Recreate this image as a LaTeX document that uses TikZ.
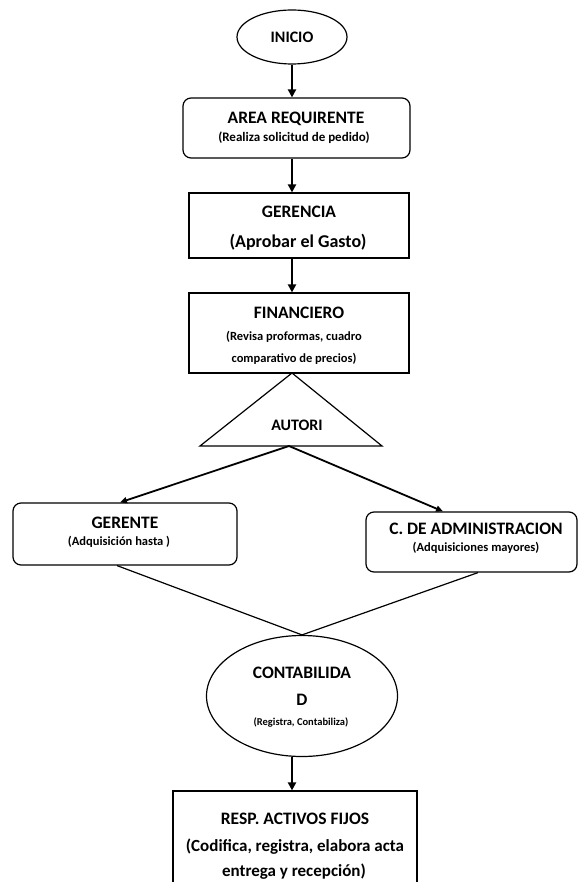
\documentclass[tikz,border=0pt]{standalone}
\usepackage{fontspec}
\setmainfont{Carlito}
\usetikzlibrary{shapes.geometric,arrows.meta}
\begin{document}
\begin{tikzpicture}[x=1pt,y=-1pt,
  box/.style={draw,line width=1.2pt,inner sep=0pt},
  roundbox/.style={box,rounded corners=8pt},
  oval/.style={draw,line width=1.2pt,ellipse,inner sep=0pt},
  txt/.style={inner sep=0pt,anchor=base},
  title/.style={txt,font=\fontsize{17.5}{20}\selectfont\bfseries},
  note/.style={txt,font=\fontsize{12.5}{14}\selectfont\bfseries},
  flow/.style={line width=2.6pt,-{Triangle[length=8pt,width=8pt]}},
  branch/.style={line width=1.8pt,-{Triangle[length=7pt,width=6pt]}},
  mergeline/.style={line width=1.2pt}
]
\useasboundingbox (0,0) rectangle (579,882);
\clip (0,0) rectangle (579,882);
\fill[white] (0,0) rectangle (579,882);

% vertical axis of the main flow
\coordinate (axis) at (292,0);

% start
\node[oval,minimum width=110pt,minimum height=54pt,
      font=\fontsize{16}{18}\selectfont\bfseries] (inicio) at (292,37) {INICIO};

% requesting area
\node[roundbox,minimum width=227pt,minimum height=60pt] (area) at (296.5,128) {};
\node[title] (areaT) at (296,123.8) {AREA REQUIRENTE};
\node[note,font=\fontsize{13}{15}\selectfont\bfseries] (areaS) at (294,141.5) {(Realiza solicitud de pedido)};

% management
\node[box,minimum width=220pt,minimum height=65pt] (gerencia) at (299,225.5) {};
\node[title] (gerT) at (299,217.8) {GERENCIA};
\node[title,font=\fontsize{18}{20}\selectfont\bfseries] (gerS) at (298,247.8) {(Aprobar el Gasto)};

% finance
\node[box,minimum width=220pt,minimum height=80pt] (finan) at (299,333) {};
\node[title] (finT) at (299,318.8) {FINANCIERO};
\node[note] (finS1) at (294,340.1) {(Revisa proformas, cuadro};
\node[note] (finS2) at (294,362.1) {comparativo de precios)};

% authorisation
\coordinate (triTop) at (292,373);
\coordinate (triLeft) at (200,446);
\coordinate (triRight) at (382,446);
\draw[line width=1.2pt,line join=miter] (triTop) -- (triLeft) -- (triRight) -- cycle;
\node[txt,font=\fontsize{16}{18}\selectfont\bfseries] (autori) at (297,430.5) {AUTORI};
\coordinate (fork) at (289,446);

% manager
\node[roundbox,minimum width=224pt,minimum height=62pt] (gerente) at (125,534) {};
\node[title] (gerteT) at (125,528.8) {GERENTE};
\node[note] (gerteS) at (119,545.1) {(Adquisición hasta )};

% administration board
\node[roundbox,minimum width=211pt,minimum height=60pt] (cadm) at (471.5,542) {};
\node[title] (cadmT) at (476,534.8) {C. DE ADMINISTRACION};
\node[note] (cadmS) at (476,551.1) {(Adquisiciones mayores)};

% accounting
\node[oval,minimum width=191pt,minimum height=121pt] (cont) at (302,696) {};
\node[title] (contT1) at (302,678.8) {CONTABILIDA};
\node[title] (contT2) at (302,705.8) {D};
\node[txt,font=\fontsize{10.5}{12}\selectfont\bfseries] (contS) at (301,725.5) {(Registra, Contabiliza)};

% fixed assets (box runs past the lower edge)
\node[box,minimum width=244pt,minimum height=110pt] (resp) at (295,846) {};
\node[title] (respT) at (295,824.8) {RESP. ACTIVOS FIJOS};
\node[title,font=\fontsize{17}{20}\selectfont\bfseries] (respL1) at (295,851.3) {(Codifica, registra, elabora acta};
\node[title,font=\fontsize{17}{20}\selectfont\bfseries] (respL2) at (294,876.3) {entrega y recepción)};

% connectors
\draw[flow] (inicio.south) -- (inicio.south |- area.north);
\draw[flow] (area.south -| axis) -- (gerencia.north -| axis);
\draw[flow] (gerencia.south -| axis) -- (finan.north -| axis);
\draw[branch] (fork) -- ([xshift=-5pt]gerente.north);
\draw[branch] (fork) -- ([xshift=-28.5pt]cadm.north);
\draw[mergeline] ([xshift=-8pt]gerente.south) -- (cont.north);
\draw[mergeline] ([xshift=6.5pt]cadm.south) -- (cont.north);
\draw[flow] (cont.south -| axis) -- (resp.north -| axis);
\end{tikzpicture}
\end{document}
